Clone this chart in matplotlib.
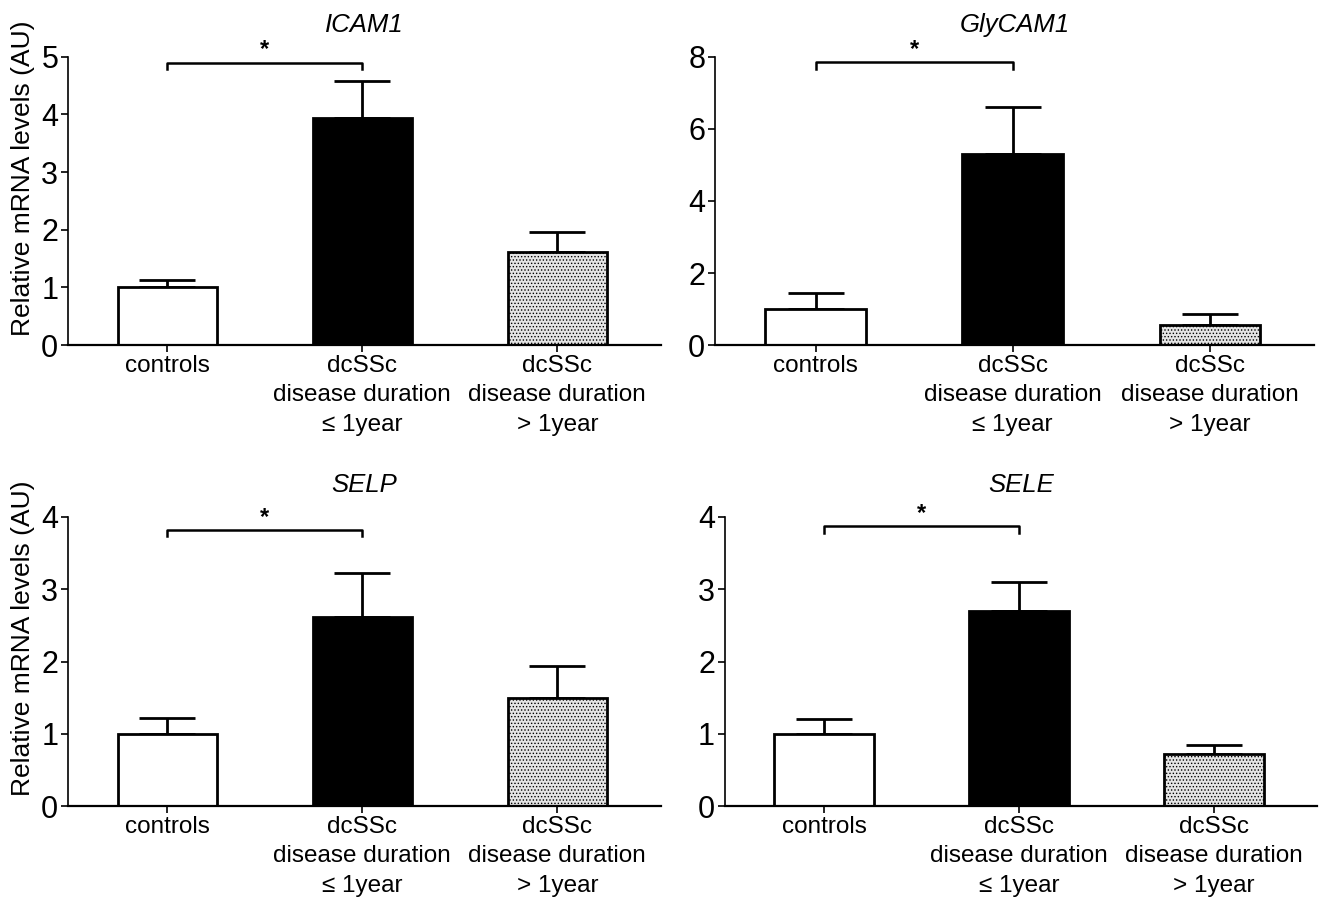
import numpy as np
import matplotlib.pyplot as plt
import matplotlib as mpl

plt.rcParams['font.family'] = ['Liberation Sans', 'DejaVu Sans']
mpl.rcParams['hatch.linewidth'] = 0.6
mpl.rcParams['hatch.color'] = '#555555'

groups = ['controls', 'dcSSc\ndisease duration\n≤ 1year', 'dcSSc\ndisease duration\n> 1year']
genes = ['ICAM1', 'GlyCAM1', 'SELP', 'SELE']
means = {'ICAM1': [1.0, 3.93, 1.62],
         'GlyCAM1': [1.0, 5.3, 0.55],
         'SELP': [1.0, 2.61, 1.5],
         'SELE': [1.0, 2.7, 0.72]}
errs = {'ICAM1': [0.13, 0.65, 0.34],
        'GlyCAM1': [0.45, 1.3, 0.3],
        'SELP': [0.22, 0.62, 0.44],
        'SELE': [0.2, 0.4, 0.12]}
ymax = {'ICAM1': 5, 'GlyCAM1': 8, 'SELP': 4, 'SELE': 4}
yticks = {'ICAM1': [0, 1, 2, 3, 4, 5], 'GlyCAM1': [0, 2, 4, 6, 8],
          'SELP': [0, 1, 2, 3, 4], 'SELE': [0, 1, 2, 3, 4]}
# significance bracket height (data units) for controls vs dcSSc <=1 year
sig_y = {'ICAM1': 4.9, 'GlyCAM1': 7.85, 'SELP': 3.82, 'SELE': 3.87}

# axes boxes [left, bottom, width, height] in figure fraction
boxes = {'ICAM1': [0.0515, 0.617, 0.449, 0.32],
         'GlyCAM1': [0.5417, 0.617, 0.454, 0.32],
         'SELP': [0.0515, 0.1054, 0.449, 0.3208],
         'SELE': [0.549, 0.1054, 0.449, 0.3208]}

fig = plt.figure(figsize=(13.2, 9.01), dpi=100)
x = np.arange(3)
faces = ['white', 'black', '#e4e4e4']
hatches = [None, None, '.....']

for g in genes:
    ax = fig.add_axes(boxes[g])
    for i in range(3):
        ax.bar(x[i], means[g][i], width=0.51, color=faces[i], edgecolor='black',
               linewidth=2, hatch=hatches[i], zorder=2)
    ax.errorbar(x, means[g], yerr=[np.zeros(3), errs[g]], fmt='none', ecolor='black',
                elinewidth=2, capsize=20.5, capthick=2, zorder=1)
    ax.set_xlim(-0.51, 2.53)
    ax.set_ylim(0, ymax[g])
    ax.set_yticks(yticks[g])
    ax.set_xticks(x)
    ax.set_xticklabels(groups, fontsize=17.5, linespacing=1.45)
    ax.tick_params(axis='y', labelsize=22, width=1.2, length=5, pad=2)
    ax.tick_params(axis='x', width=1.2, length=5, pad=2)
    for s in ['top', 'right']:
        ax.spines[s].set_visible(False)
    ax.spines['left'].set_linewidth(1.2)
    ax.spines['bottom'].set_linewidth(1.6)
    ax.set_title(g, fontsize=18.5, style='italic', pad=18)
    # significance bracket
    h = sig_y[g]
    tip = ymax[g] * 0.022
    ax.plot([0, 0, 1, 1], [h - tip, h, h, h - tip], color='black', lw=1.8,
            clip_on=False)
    ax.text(0.5, h + ymax[g] * 0.005, '*', ha='center', va='bottom', fontsize=17,
            fontweight='bold')
    if g in ('ICAM1', 'SELP'):
        ax.set_ylabel('Relative mRNA levels (AU)', fontsize=19)
        ax.yaxis.set_label_coords(-0.056, 0.58)

fig.savefig('out.png', dpi=100)
